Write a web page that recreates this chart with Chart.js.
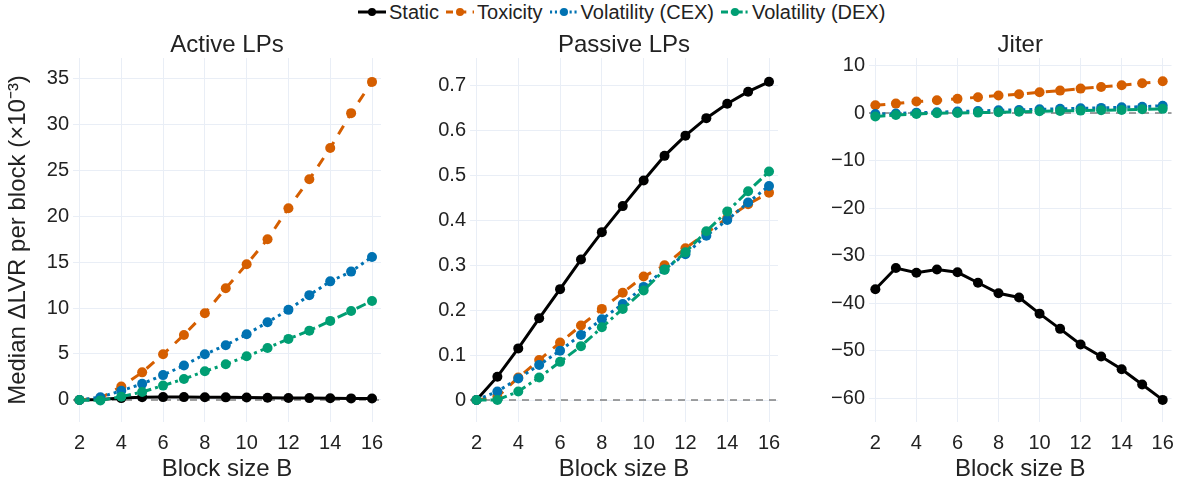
<!DOCTYPE html>
<html><head><meta charset="utf-8">
<script src="https://cdn.jsdelivr.net/npm/chart.js@4.4.1/dist/chart.umd.min.js"></script>
<style>
html,body{margin:0;padding:0;background:#fff;width:1183px;height:487px;overflow:hidden;font-family:"Liberation Sans",Arial,sans-serif;}
.box{position:absolute;top:0;height:487px;}
#legend{position:absolute;top:0;left:357px;height:24px;display:flex;align-items:center;font-size:20px;color:#222;white-space:nowrap;}
#legend .it{display:flex;align-items:center;margin-right:6px;}
#legend .it span{margin-left:2px;}
</style></head><body>
<div id="legend"></div>
<div class="box" style="left:0;width:395px"><canvas id="c1" width="395" height="487"></canvas></div>
<div class="box" style="left:395px;width:395px"><canvas id="c2" width="395" height="487"></canvas></div>
<div class="box" style="left:790px;width:393px"><canvas id="c3" width="393" height="487"></canvas></div>
<script>
// ---------- data ----------
const blockSizes = [2,3,4,5,6,7,8,9,10,11,12,13,14,15,16];
const seriesNames = ['Static','Toxicity','Volatility (CEX)','Volatility (DEX)'];
const panelTitles = ['Active LPs','Passive LPs','Jiter'];
const xTicks = [2,4,6,8,10,12,14,16];

const activeStatic   = [0,0.05,0.2,0.29,0.31,0.31,0.3,0.28,0.26,0.24,0.22,0.2,0.19,0.17,0.16];
const activeToxicity = [0,0.2,1.45,3.0,4.97,7.07,9.43,12.15,14.76,17.48,20.86,24.0,27.4,31.2,34.6];
const activeCEX      = [0,0.3,1.0,1.75,2.7,3.75,4.97,5.95,7.15,8.45,9.8,11.4,12.9,13.96,15.56];
const activeDEX      = [0,-0.05,0.36,0.87,1.56,2.28,3.12,3.88,4.75,5.66,6.64,7.54,8.6,9.68,10.77];
const activeYTicks   = [0,5,10,15,20,25,30,35];

const passiveStatic   = [0,0.052,0.115,0.182,0.247,0.313,0.374,0.432,0.489,0.544,0.589,0.628,0.66,0.687,0.709];
const passiveToxicity = [0,0.007,0.05,0.089,0.128,0.166,0.203,0.239,0.275,0.300,0.338,0.372,0.405,0.436,0.462];
const passiveCEX      = [0,0.019,0.048,0.078,0.11,0.145,0.18,0.214,0.252,0.291,0.325,0.366,0.401,0.44,0.477];
const passiveDEX      = [0,0,0.019,0.05,0.085,0.12,0.162,0.203,0.244,0.29,0.329,0.376,0.42,0.465,0.509];
const passiveYTicks   = [0,0.1,0.2,0.3,0.4,0.5,0.6,0.7];

const jiterStatic   = [-37.05,-32.6,-33.6,-32.9,-33.5,-35.7,-37.9,-38.8,-42.2,-45.4,-48.7,-51.2,-53.9,-57.1,-60.35];
const jiterToxicity = [1.65,2.0,2.43,2.7,3.0,3.34,3.69,3.97,4.4,4.74,5.16,5.5,5.86,6.28,6.7];
const jiterCEX      = [-0.2,-0.1,0.1,0.2,0.32,0.46,0.6,0.67,0.81,0.9,1.02,1.1,1.23,1.35,1.55];
const jiterDEX      = [-0.7,-0.4,-0.17,-0.03,0.04,0.11,0.18,0.3,0.39,0.46,0.53,0.6,0.67,0.8,0.9];
const jiterYTicks   = [-60,-50,-40,-30,-20,-10,0,10];

// ---------- styles ----------
const FONT = '"Liberation Sans", Arial, sans-serif';
const TXT = '#222';
const GRID = '#E9EEF6';
const styles = [
  {color:'#000000', dash:[]},
  {color:'#D55E00', dash:[10,9]},
  {color:'#0072B2', dash:[3,4]},
  {color:'#009E73', dash:[10,4,3,4]}
];

// legend (HTML, from the series arrays)
const leg = document.getElementById('legend');
seriesNames.forEach((n,i)=>{
  const st = styles[i];
  const it = document.createElement('div'); it.className='it';
  it.innerHTML = '<svg width="30" height="12"><line x1="1" y1="6" x2="29" y2="6" stroke="'+st.color+'" stroke-width="3" stroke-dasharray="'+(st.dash.length?st.dash.map(d=>d*0.7).join(','):'none')+'"/><circle cx="15" cy="6" r="4" fill="'+st.color+'"/></svg><span>'+n+'</span>';
  leg.appendChild(it);
});

const zeroLine = {
  id:'zeroLine',
  beforeDatasetsDraw(chart){
    const {ctx, chartArea:a, scales:{y}} = chart;
    const py = y.getPixelForValue(0);
    ctx.save();
    ctx.strokeStyle='rgba(115,115,115,0.9)'; ctx.lineWidth=1.5; ctx.setLineDash([7,6]);
    ctx.beginPath(); ctx.moveTo(a.left,py); ctx.lineTo(a.right,py); ctx.stroke();
    ctx.restore();
  }
};
const panelTitle = {
  id:'panelTitle',
  afterDraw(chart, args, opts){
    const {ctx, chartArea:a} = chart;
    ctx.save();
    ctx.font = '24px '+FONT; ctx.fillStyle = TXT; ctx.textAlign='center'; ctx.textBaseline='alphabetic';
    ctx.fillText(opts.text, (a.left+a.right)/2, 52);
    ctx.restore();
  }
};

function fmt(v){
  const r = Math.round(v*1000)/1000;
  const s = String(Math.abs(r));
  return (r<0?'\u2212':'')+s;
}

function makeChart(id, title, series, yTicks, yMin, yMax, yWidth, padRight, yTitle){
  const datasets = series.map((vals,i)=>({
    label: seriesNames[i],
    data: blockSizes.map((b,k)=>({x:b, y:vals[k]})),
    borderColor: styles[i].color,
    backgroundColor: styles[i].color,
    pointBackgroundColor: styles[i].color,
    pointBorderWidth: 0,
    pointRadius: 5,
    borderWidth: 3,
    borderDash: styles[i].dash,
    tension: 0,
    order: series.length-1-i,
    clip: false
  }));
  return new Chart(document.getElementById(id), {
    type:'line',
    data:{datasets},
    plugins:[zeroLine, panelTitle],
    options:{
      responsive:false, animation:false, devicePixelRatio:1,
      layout:{padding:{top:58, right:padRight, left:0, bottom:0}},
      plugins:{legend:{display:false}, tooltip:{enabled:false}, panelTitle:{text:title}},
      scales:{
        x:{
          type:'linear', min:1.69, max:16.43,
          afterBuildTicks: s => { s.ticks = xTicks.map(v=>({value:v})); },
          afterFit: s => { s.height = 65; },
          grid:{color:GRID, lineWidth:1, drawTicks:false},
          border:{display:false},
          ticks:{color:TXT, font:{family:FONT, size:20}, padding:9, maxRotation:0, callback:v=>fmt(v)},
          title:{display:true, text:'Block size B', color:TXT, font:{family:FONT, size:24}, padding:{top:0,bottom:3}}
        },
        y:{
          type:'linear', min:yMin, max:yMax,
          afterBuildTicks: s => { s.ticks = yTicks.map(v=>({value:v})); },
          afterFit: s => { s.width = yWidth; },
          grid:{color:GRID, lineWidth:1, drawTicks:false},
          border:{display:false},
          ticks:{color:TXT, font:{family:FONT, size:20}, padding:4, callback:v=>fmt(v)},
          title:{display:!!yTitle, text:yTitle||'', color:TXT, font:{family:FONT, size:24}, padding:{top:4,bottom:0}}
        }
      }
    }
  });
}

makeChart('c1', panelTitles[0], [activeStatic,activeToxicity,activeCEX,activeDEX], activeYTicks, -2.4, 37.2, 73, 14, 'Median \u0394LVR per block (\u00d710\u207b\u00b3)');
makeChart('c2', panelTitles[1], [passiveStatic,passiveToxicity,passiveCEX,passiveDEX], passiveYTicks, -0.049, 0.762, 75, 12, null);
makeChart('c3', panelTitles[2], [jiterStatic,jiterToxicity,jiterCEX,jiterDEX], jiterYTicks, -65, 11.6, 79, 6, null);
</script>
</body></html>
